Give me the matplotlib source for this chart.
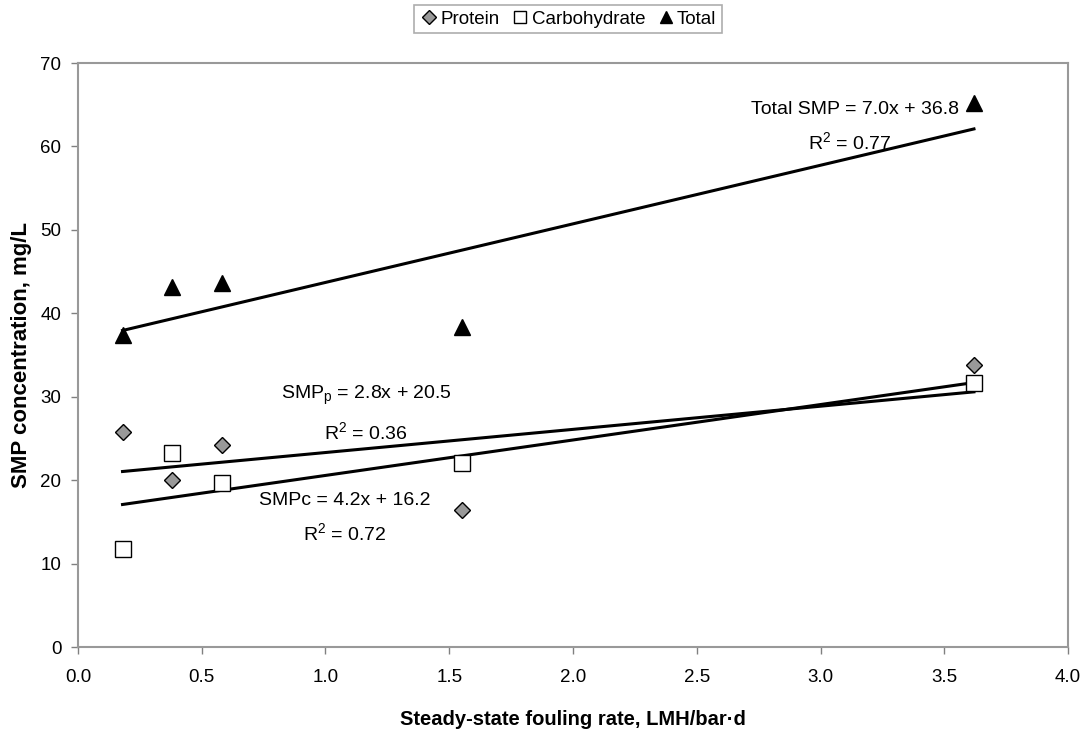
import numpy as np
import matplotlib.pyplot as plt

plt.rcParams['font.family'] = ['Liberation Sans', 'DejaVu Sans']
plt.rcParams['mathtext.fontset'] = 'custom'
plt.rcParams['mathtext.rm'] = 'Liberation Sans'
plt.rcParams['mathtext.it'] = 'Liberation Sans:italic'

# fouling rate (LMH/bar.d)
fouling_rate = [0.18, 0.38, 0.58, 1.55, 3.62]
protein = [25.8, 20.0, 24.2, 16.4, 33.8]
carbohydrate = [11.7, 23.3, 19.7, 22.1, 31.6]
total = [37.4, 43.1, 43.6, 38.4, 65.2]

fig = plt.figure(figsize=(10.8, 7.32), dpi=100)
ax = fig.add_axes([0.0722, 0.1161, 0.9167, 0.7978])

x = np.array(fouling_rate)
ax.plot(x, protein, 'D', ms=8.5, mfc='#999999', mec='black', mew=1, label='Protein', zorder=3)
ax.plot(x, carbohydrate, 's', ms=11, mfc='white', mec='black', mew=1, label='Carbohydrate', zorder=3)
ax.plot(x, total, '^', ms=11, mfc='black', mec='black', label='Total', zorder=3)

# linear trend lines
for y in (protein, carbohydrate, total):
    k, b = np.polyfit(x, y, 1)
    ax.plot([x.min(), x.max()], [k * x.min() + b, k * x.max() + b], color='black', lw=2.2, zorder=2)

fs = 14
ax.text(3.14, 64.4, 'Total SMP = 7.0x + 36.8', ha='center', va='center', fontsize=fs)
ax.text(3.12, 60.5, 'R$^2$ = 0.77', ha='center', va='center', fontsize=fs)
ax.text(1.164, 30.2, 'SMP$_\\mathregular{p}$ = 2.8x + 20.5', ha='center', va='center', fontsize=fs)
ax.text(1.164, 25.8, 'R$^2$ = 0.36', ha='center', va='center', fontsize=fs)
ax.text(1.079, 17.6, 'SMPc = 4.2x + 16.2', ha='center', va='center', fontsize=fs)
ax.text(1.079, 13.7, 'R$^2$ = 0.72', ha='center', va='center', fontsize=fs)

ax.set_xlim(0, 4)
ax.set_ylim(0, 70)
ax.set_xticks(np.arange(0, 4.01, 0.5))
ax.set_xticklabels([f'{v:.1f}' for v in np.arange(0, 4.01, 0.5)])
ax.set_yticks(range(0, 71, 10))
ax.tick_params(labelsize=13.5, color='#808080', length=5, width=1, direction='out')
ax.tick_params(axis='x', pad=11)
ax.tick_params(axis='y', pad=7)
for s in ax.spines.values():
    s.set_color('#999999')
    s.set_linewidth(1.5)

ax.set_xlabel('Steady-state fouling rate, LMH/bar·d', fontsize=14.5, fontweight='bold', labelpad=17)
ax.set_ylabel('SMP concentration, mg/L', fontsize=16, fontweight='bold', labelpad=6)

leg = fig.legend(loc='upper center', bbox_to_anchor=(0.526, 1.006), ncol=3, fontsize=13.5,
                 frameon=True, fancybox=False, handletextpad=0.1, columnspacing=0.6,
                 handlelength=1.0, borderpad=0.3, markerscale=0.85)
leg.get_frame().set_edgecolor('#999999')
leg.get_frame().set_linewidth(1.2)

fig.savefig('out.png', dpi=100)
